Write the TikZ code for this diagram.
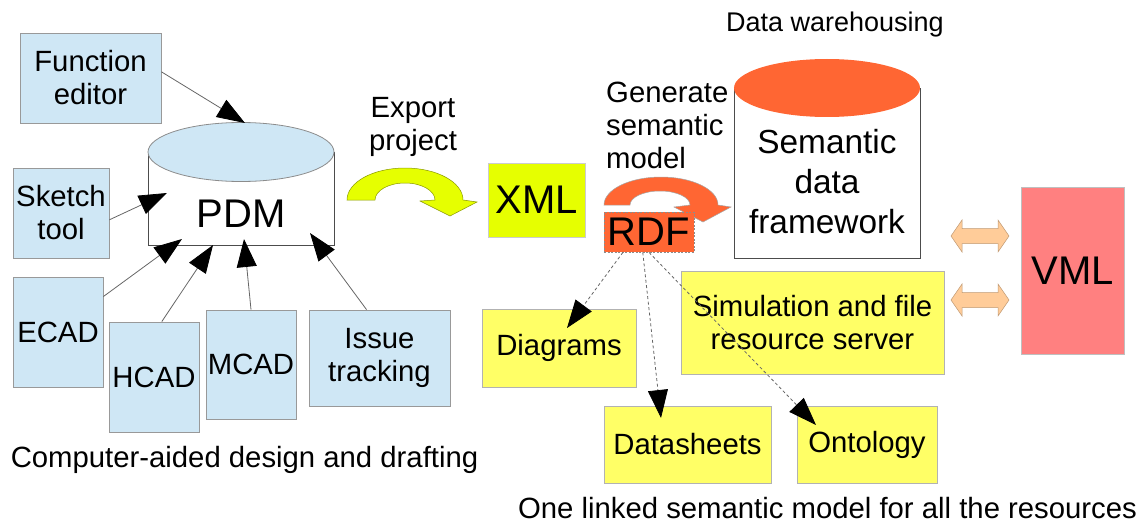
\documentclass[tikz,border=0pt]{standalone}
\usepackage{fontspec}
\setmainfont{Liberation Sans}
\usetikzlibrary{arrows.meta}

\definecolor{paleblue}{RGB}{207,231,245}
\definecolor{lemon}{RGB}{255,255,102}
\definecolor{limey}{RGB}{230,255,0}
\definecolor{tangerine}{RGB}{255,102,51}
\definecolor{peach}{RGB}{255,204,153}
\definecolor{salmon}{RGB}{255,128,128}

\begin{document}
\begin{tikzpicture}[x=1pt,y=-1pt,
  lbl/.style={font=\fontsize{29.3}{33}\selectfont, align=center, inner sep=0pt},
  box/.style={rectangle, draw=black!40, line width=0.8pt, inner sep=0pt, align=center,
    font=\fontsize{29.3}{33}\selectfont},
  bluebox/.style={box, fill=paleblue},
  yelbox/.style={box, fill=lemon, draw=black!30},
  big/.style={font=\fontsize{40}{44}\selectfont},
  link/.style={draw=black!60, line width=0.8pt,
    -{Triangle[length=28pt,width=20pt,color=black,fill=black]}},
  dlink/.style={link, dash pattern=on 3pt off 2.5pt},
  cylside/.style={draw=black!70, line width=0.8pt, fill=white}
]
\useasboundingbox (0,0) rectangle (1147,524);

% ---- PDM store ----
\path[cylside] (148,152) -- (148,245) -- (334,245) -- (334,152);
\draw[draw=black!45, line width=0.8pt, fill=paleblue] (241,152) ellipse [x radius=93pt, y radius=29.5pt];
\node[inner sep=0pt, big] (pdm) at (241,214) {PDM};

% ---- CAD tools ----
\node[bluebox, minimum width=141pt, minimum height=90pt] (fe) at (90.5,78) {Function\\editor};
\node[bluebox, minimum width=96pt, minimum height=90pt] (sk) at (61,213) {Sketch\\tool};
\node[bluebox, minimum width=90pt, minimum height=110pt] (ecad) at (58,332) {ECAD};
\node[bluebox, minimum width=90pt, minimum height=110pt] (hcad) at (154,377) {HCAD};
\node[bluebox, minimum width=90pt, minimum height=109pt] (mcad) at (251,364.5) {MCAD};
\node[bluebox, minimum width=141pt, minimum height=96pt] (issue) at (379.5,358) {Issue\\tracking};
\node[lbl] (cad) at (244.5,460) {Computer-aided design and drafting};

% arrow ends on the PDM store
\coordinate (pFE) at (245,123);
\coordinate (pSK) at (167,193);
\coordinate (pEC) at (182,239);
\coordinate (pHC) at (213,245);
\coordinate (pMC) at (244,239);
\coordinate (pIS) at (310,233);

\draw[link] (fe.5) -- (pFE);
\draw[link] (sk.-8) -- (pSK);
\draw[link] (ecad.38) -- (pEC);
\draw[link] (hcad.82) -- (pHC);
\draw[link] (mcad.north) -- (pMC);
\draw[link] (issue.105) -- (pIS);

% ---- export step ----
\node[lbl] (export) at (413,127) {Export\\project};
\path[draw=limey!60!black, line width=0.5pt, fill=limey]
  (347,200) arc[start angle=180, end angle=0, x radius=58pt, y radius=32pt]
  -- (477,202) -- (450,216) -- (420,201) -- (435,200)
  arc[start angle=0, end angle=180, x radius=30pt, y radius=17pt] -- cycle;
\node[box, draw=black!20, fill=limey, big, minimum width=97pt, minimum height=74pt] (xml) at (536.5,200) {XML};

% ---- semantic model generation ----
\node[lbl, align=left, anchor=west] (gen) at (606,125) {Generate\\semantic\\model};
\path[draw=black!35, line width=0.5pt, fill=tangerine]
  (604,205) arc[start angle=180, end angle=0, x radius=57pt, y radius=28pt]
  -- (731,207) -- (703,222) -- (674,207) -- (690,205)
  arc[start angle=0, end angle=180, x radius=30pt, y radius=14pt] -- cycle;
\node[box, draw=black!45, dash pattern=on 2pt off 1.5pt, fill=tangerine, big,
  minimum width=90pt, minimum height=40pt] (rdf) at (649,232) {RDF};

% ---- data warehouse ----
\node[lbl, font=\fontsize{27}{31}\selectfont] (dw) at (835,24.5) {Data warehousing};
\path[cylside] (734,88) -- (734,258) -- (920,258) -- (920,88);
\fill[tangerine] (827,88) ellipse [x radius=93pt, y radius=29pt];
\node[lbl, font=\fontsize{33.4}{40}\selectfont] (sdf) at (827,182) {Semantic\\data\\framework};

% ---- resources ----
\node[yelbox, minimum width=263pt, minimum height=103pt] (sim) at (812.5,322.5) {Simulation and file\\resource server};
\node[yelbox, minimum width=154pt, minimum height=78pt] (diag) at (559,348) {Diagrams};
\node[yelbox, minimum width=167pt, minimum height=77pt] (dsheet) at (687.5,444.5) {Datasheets};
\node[yelbox, minimum width=140pt, minimum height=77pt] (onto) at (867,444.5) {Ontology};
\node[lbl] (onelinked) at (827.5,508.5) {One linked semantic model for all the resources};

\coordinate (tDiag) at (567,328);
\coordinate (tDs) at (661,418);
\coordinate (tOnto) at (816,425);
\draw[dlink] (rdf.218) -- (tDiag);
\draw[dlink] (rdf.253) -- (tDs);
\draw[dlink] (rdf.south) -- (tOnto);

% ---- VML ----
\node[box, draw=black!25, fill=salmon, big, minimum width=103pt, minimum height=167pt] (vml) at (1072.5,270.5) {VML};
\foreach \yc in {236,300}{
  \path[fill=peach, draw=peach!75!black, line width=0.5pt]
    (951,\yc) -- (962,\yc-16) -- (962,\yc-7.5) -- (998,\yc-7.5) -- (998,\yc-16)
    -- (1009,\yc) -- (998,\yc+16) -- (998,\yc+7.5) -- (962,\yc+7.5) -- (962,\yc+16) -- cycle;
}
\end{tikzpicture}
\end{document}
